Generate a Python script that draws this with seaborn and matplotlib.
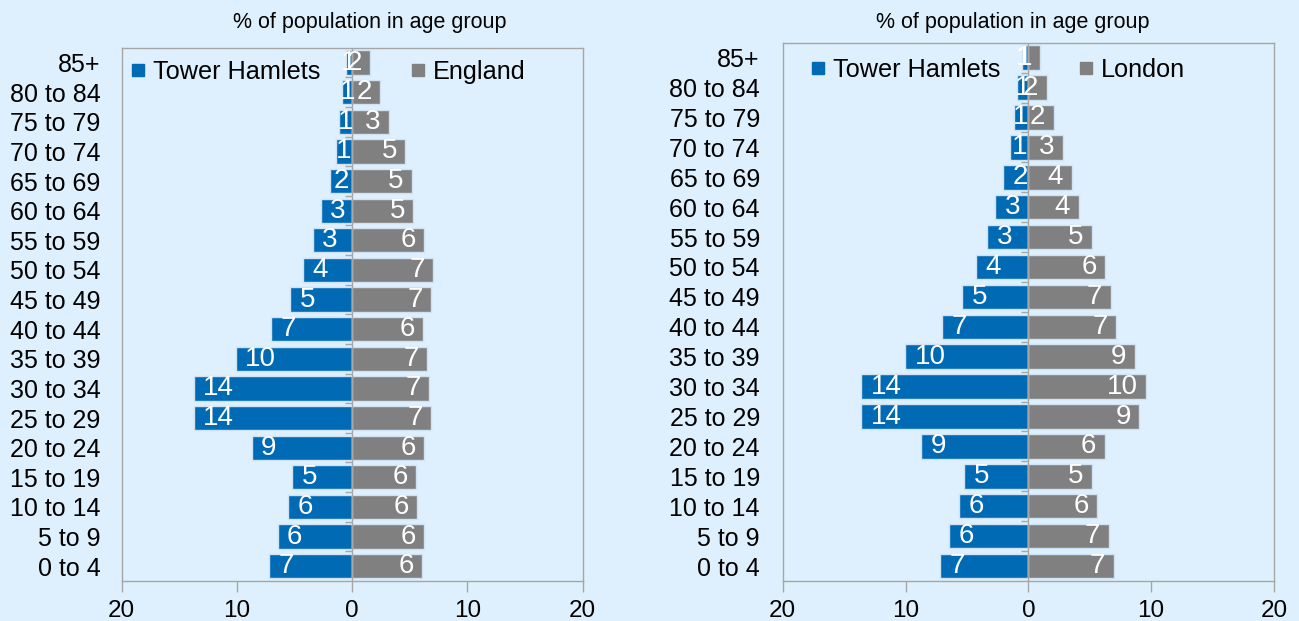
import seaborn as sns
import matplotlib.pyplot as plt
from matplotlib.lines import Line2D
import numpy as np
import pandas as pd

# age bands, top of the pyramid first
ages = ["85+", "80 to 84", "75 to 79", "70 to 74", "65 to 69", "60 to 64",
        "55 to 59", "50 to 54", "45 to 49", "40 to 44", "35 to 39", "30 to 34",
        "25 to 29", "20 to 24", "15 to 19", "10 to 14", "5 to 9", "0 to 4"]

# % of population in each age band
th_left = [0.52, 0.83, 1.12, 1.4, 1.94, 2.71, 3.38, 4.25, 5.35, 7.03, 10.1, 13.7,
           13.7, 8.7, 5.18, 5.54, 6.44, 7.16]
england = [1.54, 2.41, 3.2, 4.64, 5.18, 5.32, 6.22, 7.0, 6.85, 6.13, 6.55, 6.7,
           6.85, 6.29, 5.57, 5.68, 6.29, 6.07]
th_right = [0.55, 0.89, 1.19, 1.46, 2.1, 2.71, 3.39, 4.29, 5.38, 7.03, 10.04, 13.66,
            13.66, 8.74, 5.2, 5.64, 6.48, 7.22]
london = [0.94, 1.51, 2.08, 2.83, 3.52, 4.1, 5.19, 6.27, 6.71, 7.17, 8.69, 9.58,
          9.04, 6.23, 5.15, 5.62, 6.57, 6.97]

x_ticks = [-20, -10, 0, 10, 20]
x_labels = ["20", "10", "0", "10", "20"]
title = "% of population in age group"

bg = "#DEF0FD"
blue = "#006AB4"
grey = "#808080"
spine_col = "#A6A6A6"

sns.set_style("white")
plt.rcParams["font.family"] = ["Liberation Sans", "DejaVu Sans"]
plt.rcParams["text.color"] = "black"
plt.rcParams["xtick.color"] = "black"
plt.rcParams["ytick.color"] = "black"


def pyramid(ax, left_vals, right_vals, left_name, right_name, title_x, title_y,
            leg_x, leg_y, colspace, ypad):
    df = pd.concat([
        pd.DataFrame({"age": ages, "pct": -np.array(left_vals), "area": left_name}),
        pd.DataFrame({"age": ages, "pct": np.array(right_vals), "area": right_name}),
    ])
    sns.barplot(data=df, x="pct", y="age", hue="area", order=ages,
                hue_order=[left_name, right_name],
                palette={left_name: blue, right_name: grey}, saturation=1,
                dodge=False, orient="h", width=0.82, edgecolor="#CFE2F3",
                linewidth=1, legend=False, ax=ax)
    ax.set_facecolor(bg)
    ax.set_xlim(-20, 20)
    ax.set_ylim(len(ages) - 0.5, -0.5)
    ax.set_xticks(x_ticks)
    ax.set_xticklabels(x_labels)
    ax.set(xlabel=None, ylabel=None)
    ax.tick_params(axis="x", which="both", bottom=True, length=8, width=1,
                   color=spine_col, labelcolor="black", pad=5.5, labelsize=17.5)
    ax.tick_params(axis="y", length=0, pad=ypad, labelsize=18, labelcolor="black")
    for s in ax.spines.values():
        s.set_visible(True)
        s.set_color(spine_col)
        s.set_linewidth(1)
    ax.axvline(0, color=spine_col, lw=1, zorder=3)
    # small category tick marks on the zero axis
    ax.hlines(np.arange(len(ages) - 1) + 0.5, -0.6, 0, color=spine_col, lw=1, zorder=3)

    for i in range(len(ages)):
        lv = left_vals[i]
        if lv < 2:
            # too short for the label: centre it on the bar
            ax.text(-lv / 2, i, f"{lv:.0f}", color="white", ha="center",
                    va="center", fontsize=20, zorder=4)
        else:
            ax.text(-lv + 0.8, i, f"{lv:.0f}", color="white", ha="left",
                    va="center", fontsize=20, zorder=4)
        ax.text(right_vals[i] - 0.7, i, f"{right_vals[i]:.0f}", color="white",
                ha="right", va="center", fontsize=20, zorder=4)

    ax.text(title_x, title_y, title, transform=ax.transAxes, ha="center",
            va="center", fontsize=15.5, color="black")

    handles = [Line2D([], [], marker="s", ls="none", color=blue, markersize=8),
               Line2D([], [], marker="s", ls="none", color=grey, markersize=8)]
    ax.legend(handles, [left_name, right_name], ncol=2, loc="center left",
              bbox_to_anchor=(leg_x, leg_y), frameon=False, fontsize=18.2,
              handlelength=0.5, handletextpad=0.35, columnspacing=colspace,
              borderpad=0, borderaxespad=0, labelcolor="black")


fig = plt.figure(figsize=(12.99, 6.21), dpi=100)
fig.patch.set_facecolor(bg)
ax1 = fig.add_axes([121.5 / 1299, 1 - 581 / 621, 461 / 1299, 533.3 / 621])
ax2 = fig.add_axes([782.7 / 1299, 1 - 581 / 621, 491.3 / 1299, 538.3 / 621])

pyramid(ax1, th_left, england, "Tower Hamlets", "England",
        0.538, 1.048, 0.022, 0.955, 3.6, 15)
pyramid(ax2, th_right, london, "Tower Hamlets", "London",
        0.469, 1.038, 0.058, 0.950, 3.15, 16.5)

plt.savefig("out.png", dpi=100, facecolor=bg)
plt.close()
